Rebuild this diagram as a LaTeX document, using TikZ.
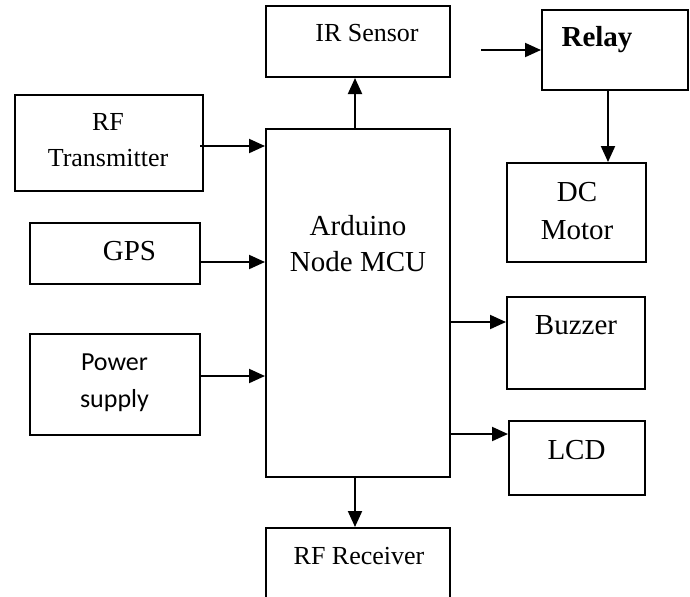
\documentclass[tikz,border=0pt]{standalone}
\usepackage{fontspec}
\setmainfont{Liberation Serif}
\newfontfamily\calfont{Carlito}
\usetikzlibrary{arrows.meta}
\begin{document}
\begin{tikzpicture}[x=0.5pt,y=-0.5pt,
  blk/.style={draw, line width=1pt, inner sep=0pt, rectangle},
  arr/.style={draw, line width=1pt, -{Triangle[length=8pt,width=7pt]}},
  big/.style={font=\fontsize{14.5pt}{18pt}\selectfont, align=center, inner sep=0pt},
  sml/.style={font=\fontsize{13pt}{18pt}\selectfont, align=center, inner sep=0pt}]
\useasboundingbox (0,0) rectangle (690,596);
% boxes
\node[blk, minimum width=92pt, minimum height=35.5pt] (ir) at (358,41.5) {};
\node[blk, minimum width=73pt, minimum height=40pt] (relay) at (615,50) {};
\node[blk, minimum width=94pt, minimum height=48pt] (rft) at (109,143) {};
\node[blk, minimum width=92pt, minimum height=174pt] (ard) at (358,303) {};
\node[blk, minimum width=85pt, minimum height=30.5pt] (gps) at (115,253.5) {};
\node[blk, minimum width=85pt, minimum height=50.5pt] (pwr) at (115,384.5) {};
\node[blk, minimum width=69.5pt, minimum height=49.5pt] (dcm) at (576.5,212.5) {};
\node[blk, minimum width=69pt, minimum height=46pt] (buz) at (576,343) {};
\node[blk, minimum width=68pt, minimum height=37pt] (lcd) at (577,458) {};
\node[blk, minimum width=92pt, minimum height=41pt] (rfr) at (358,569) {};
% texts
\node[sml] (tir) at (367,33) {IR Sensor};
\node[big, font=\fontsize{14.5pt}{18pt}\selectfont\bfseries] (trelay) at (597,40) {Relay};
\node[sml] (trft) at (108,140) {RF\\Transmitter};
\node[big] (tard) at (358,244) {Arduino\\Node MCU};
\node[big] (tgps) at (129.5,251) {GPS};
\node[sml, font=\fontsize{13pt}{18.5pt}\selectfont\calfont] (tpwr) at (114.5,383) {Power\\supply};
\node[big, font=\fontsize{14.5pt}{19pt}\selectfont] (tdcm) at (577,211) {DC\\Motor};
\node[big] (tbuz) at (576,325) {Buzzer};
\node[big] (tlcd) at (576.5,450) {LCD};
\node[sml] (trfr) at (359,556) {RF Receiver};
% arrow levels
\coordinate (yrf) at (0,146);
\coordinate (yg) at (0,262);
\coordinate (yp) at (0,376);
\coordinate (yb) at (0,322);
\coordinate (yl) at (0,434);
\coordinate (xir) at (355,0);
\coordinate (xdc) at (608,0);
\coordinate (rin) at (481,50);
\coordinate (rfs) at (200,146);
% connectors
\draw[arr] (ard.north -| xir) -- (ir.south -| xir);
\draw[arr] (rin) -- (relay.west);
\draw[arr] (relay.south -| xdc) -- (dcm.north -| xdc);
\draw[arr] (rfs) -- (ard.west |- yrf);
\draw[arr] (gps.east |- yg) -- (ard.west |- yg);
\draw[arr] (pwr.east |- yp) -- (ard.west |- yp);
\draw[arr] (ard.east |- yb) -- (buz.west |- yb);
\draw[arr] (ard.east |- yl) -- (lcd.west |- yl);
\draw[arr] (ard.south -| xir) -- (rfr.north -| xir);
\end{tikzpicture}
\end{document}
